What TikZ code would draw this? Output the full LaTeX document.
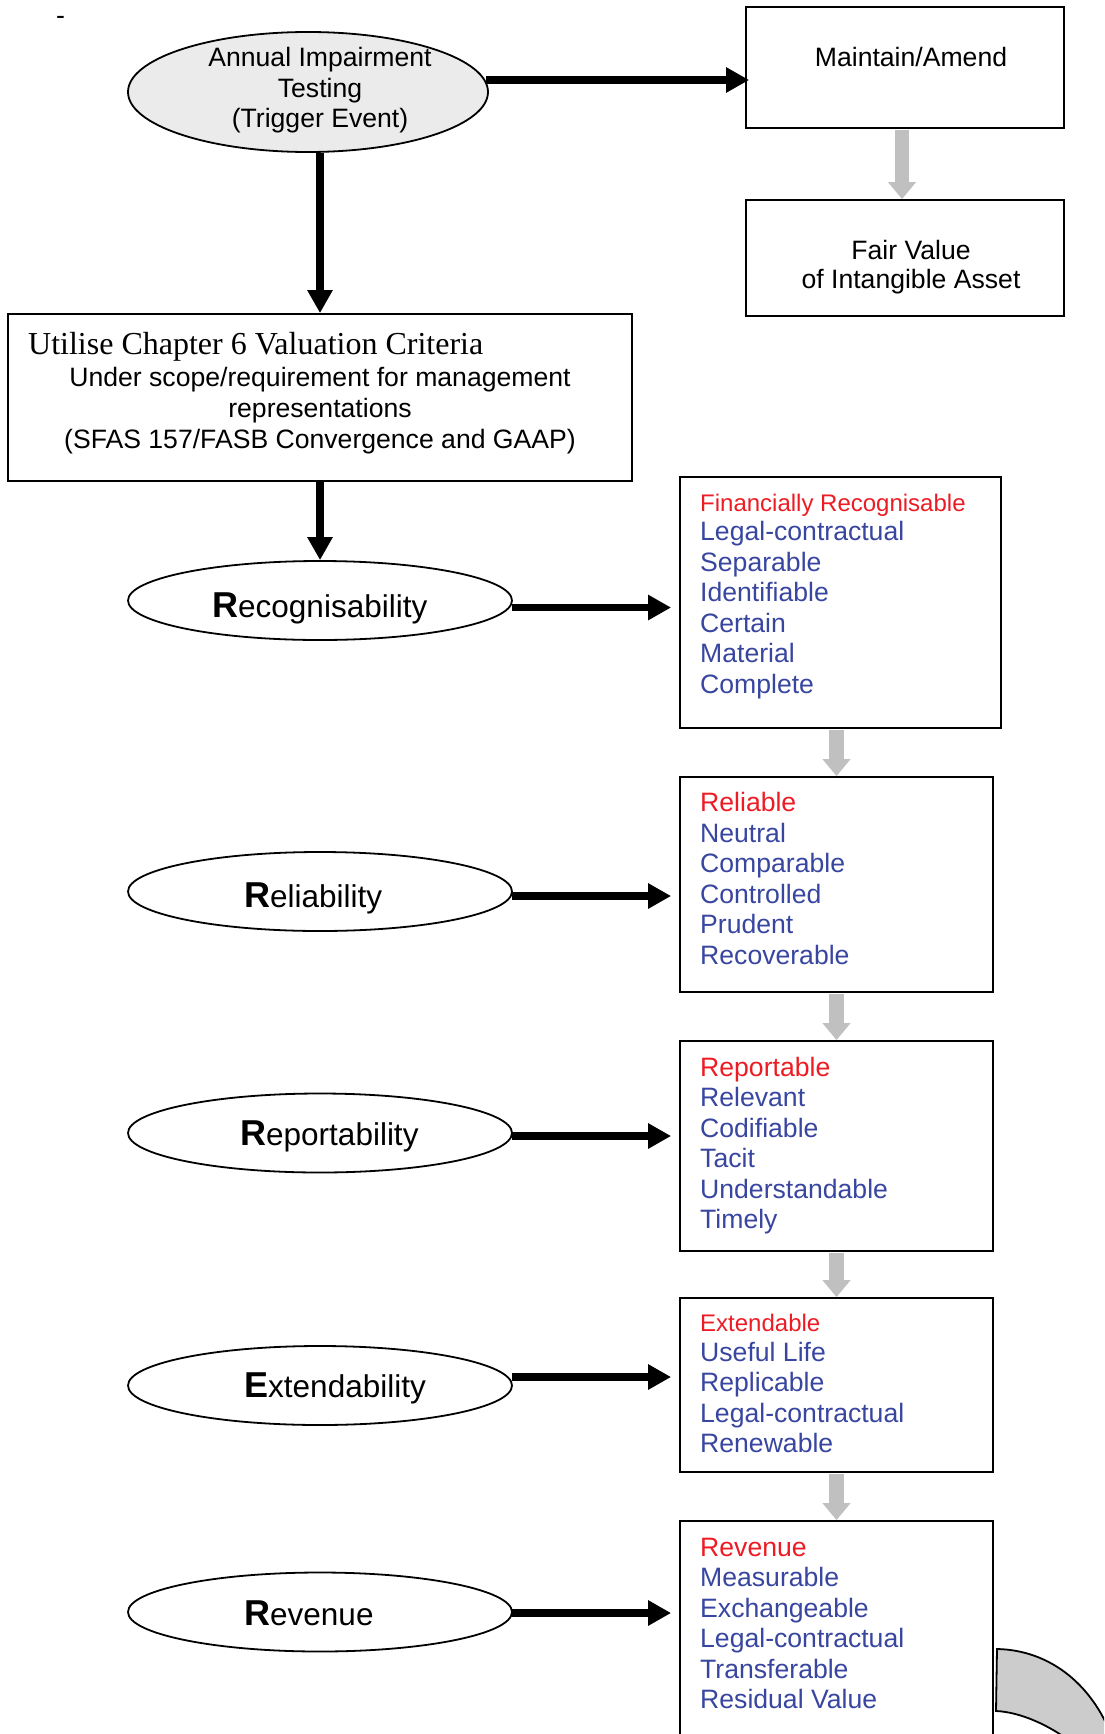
\documentclass[tikz,border=0pt]{standalone}
\usepackage{fontspec}
\setmainfont{Liberation Sans}
\newfontfamily\serifface{Liberation Serif}
\usetikzlibrary{arrows.meta,shapes.geometric,calc}

\definecolor{itemred}{RGB}{237,28,36}
\definecolor{itemblue}{RGB}{56,70,160}
\definecolor{flowgray}{RGB}{192,192,192}
\definecolor{ovalfill}{RGB}{235,235,235}
\definecolor{bandgray}{RGB}{204,204,204}

\begin{document}
\begin{tikzpicture}[x=1pt,y=-1pt,
  frame/.style={draw=black, line width=1.8pt, rectangle, inner sep=0pt},
  oval/.style={draw=black, line width=1.8pt, ellipse, inner sep=0pt,
    minimum width=384pt, minimum height=79pt},
  txt/.style={inner sep=0pt, font=\fontsize{26.6}{30.6}\selectfont},
  ctxt/.style={txt, anchor=base},
  redtxt/.style={txt, text=itemred, anchor=base west},
  smallred/.style={redtxt, font=\fontsize{24}{28}\selectfont},
  bluetxt/.style={txt, text=itemblue, anchor=base west},
  ovallabel/.style={inner sep=0pt, anchor=base west, font=\fontsize{31.5}{36}\selectfont},
  blackarrow/.style={draw=black, line width=7.5pt, -{Triangle[length=23pt,width=24pt]}},
  grayarrow/.style={draw=flowgray, line width=14.5pt, shorten <=1pt,
    -{Triangle[length=17pt,width=27pt]}},
]
\newcommand{\bigR}{\textbf{\fontsize{36}{36}\selectfont R}}

\useasboundingbox (0,0) rectangle (1104,1734);
\fill[white] (0,0) rectangle (1104,1734);
\clip (0,0) rectangle (1104,1734);

% stray hyphen at the top left
\node[txt, anchor=base west] (dash) at (56,25) {-};

% trigger event
\node[oval, fill=ovalfill, minimum width=360pt, minimum height=120pt] (topE) at (308,92) {};
\node[ctxt] (topT1) at (320,67) {Annual Impairment};
\node[ctxt] (topT2) at (320,97.5) {Testing};
\node[ctxt] (topT3) at (320,128) {(Trigger Event)};

% maintain / amend and fair value
\node[frame, minimum width=318pt, minimum height=121pt] (mnt) at (905,67.5) {};
\node[ctxt] (mntT) at (911,67) {Maintain/Amend};
\node[frame, minimum width=318pt, minimum height=116pt] (fv) at (905,258) {};
\node[ctxt] (fvT1) at (911,259) {Fair Value};
\node[ctxt] (fvT2) at (911,288) {of Intangible Asset};

% valuation criteria box
\node[frame, minimum width=624pt, minimum height=167pt] (utl) at (320,397.5) {};
\node[inner sep=0pt, anchor=base west, font=\serifface\fontsize{32}{36}\selectfont] (utlT0) at (28,354)
  {Utilise Chapter 6 Valuation Criteria};
\node[ctxt] (utlT1) at (320,386.5) {Under scope/requirement for management};
\node[ctxt] (utlT2) at (320,417.5) {representations};
\node[ctxt] (utlT3) at (320,448.5) {(SFAS 157/FASB Convergence and GAAP)};

% the five criteria
\node[oval] (recE) at (320,600.5) {};
\node[ovallabel] (recT) at (212,617.5) {\bigR ecognisability};
\node[oval] (relE) at (320,891.5) {};
\node[ovallabel] (relT) at (244,907) {\bigR eliability};
\node[oval] (repE) at (320,1133) {};
\node[ovallabel] (repT) at (240,1145) {\bigR eportability};
\node[oval] (extE) at (320,1385.5) {};
\node[ovallabel] (extT) at (244,1397) {\textbf{\fontsize{36}{36}\selectfont E}xtendability};
\node[oval] (revE) at (320,1612) {};
\node[ovallabel] (revT) at (244,1625.5) {\bigR evenue};

% attribute boxes
\node[frame, minimum width=321pt, minimum height=251pt] (b1) at (840.5,602.5) {};
\node[frame, minimum width=313pt, minimum height=215pt] (b2) at (836.5,884.5) {};
\node[frame, minimum width=313pt, minimum height=210pt] (b3) at (836.5,1146) {};
\node[frame, minimum width=313pt, minimum height=174pt] (b4) at (836.5,1385) {};
\node[frame, minimum width=313pt, minimum height=239pt] (b5) at (836.5,1640.5) {};

\node[smallred] (b1h) at (700,511) {Financially Recognisable};
\foreach \w [count=\k from 0] in {Legal-contractual,Separable,Identifiable,Certain,Material,Complete}
  \node[bluetxt] (b1l\k) at (700,{540.5+\k*30.6}) {\w};

\node[redtxt] (b2h) at (700,811.5) {Reliable};
\foreach \w [count=\k from 0] in {Neutral,Comparable,Controlled,Prudent,Recoverable}
  \node[bluetxt] (b2l\k) at (700,{842+\k*30.6}) {\w};

\node[redtxt] (b3h) at (700,1076) {Reportable};
\foreach \w [count=\k from 0] in {Relevant,Codifiable,Tacit,Understandable,Timely}
  \node[bluetxt] (b3l\k) at (700,{1106.5+\k*30.6}) {\w};

\node[smallred] (b4h) at (700,1331.5) {Extendable};
\foreach \w [count=\k from 0] in {Useful Life,Replicable,Legal-contractual,Renewable}
  \node[bluetxt] (b4l\k) at (700,{1361+\k*30.6}) {\w};

\node[redtxt] (b5h) at (700,1556.5) {Revenue};
\foreach \w [count=\k from 0] in {Measurable,Exchangeable,Legal-contractual,Transferable,Residual Value}
  \node[bluetxt] (b5l\k) at (700,{1586.5+\k*30.6}) {\w};

% black flow arrows
\draw[blackarrow] ($(topE.east)+(-3,-12)$) -- ($(mnt.west |- topE.east)+(4,-12)$);
\draw[blackarrow] (topE.south -| utl.north) -- (utl.north);
\draw[blackarrow] (utl.south) -- (recE.north);
\draw[blackarrow] ($(recE.east)+(-1,7)$) -- ($(recE.east -| b1.west)+(-8,7)$);
\draw[blackarrow] ($(relE.east)+(-1,4.5)$) -- ($(relE.east -| b2.west)+(-8,4.5)$);
\draw[blackarrow] ($(repE.east)+(-1,3)$) -- ($(repE.east -| b3.west)+(-8,3)$);
\draw[blackarrow] ($(extE.east)+(-1,-8.5)$) -- ($(extE.east -| b4.west)+(-8,-8.5)$);
\draw[blackarrow] ($(revE.east)+(-1,1)$) -- ($(revE.east -| b5.west)+(-8,1)$);

% gray connectors between boxes
\draw[grayarrow] ($(mnt.south)+(-3,0)$) -- ($(fv.north)+(-3,0)$);
\draw[grayarrow] (b2.north |- b1.south) -- (b2.north);
\draw[grayarrow] (b2.south) -- (b3.north);
\draw[grayarrow] (b3.south) -- (b4.north);
\draw[grayarrow] (b4.south) -- (b5.north);

% curved band leaving the last box
\filldraw[fill=bandgray, draw=black, line width=1.8pt, line join=miter]
  (997,1649) .. controls (1050,1650) and (1095,1685) .. (1115,1745)
  -- (1075,1745) .. controls (1050,1725) and (1020,1712) .. (996,1711) -- cycle;
\end{tikzpicture}
\end{document}
